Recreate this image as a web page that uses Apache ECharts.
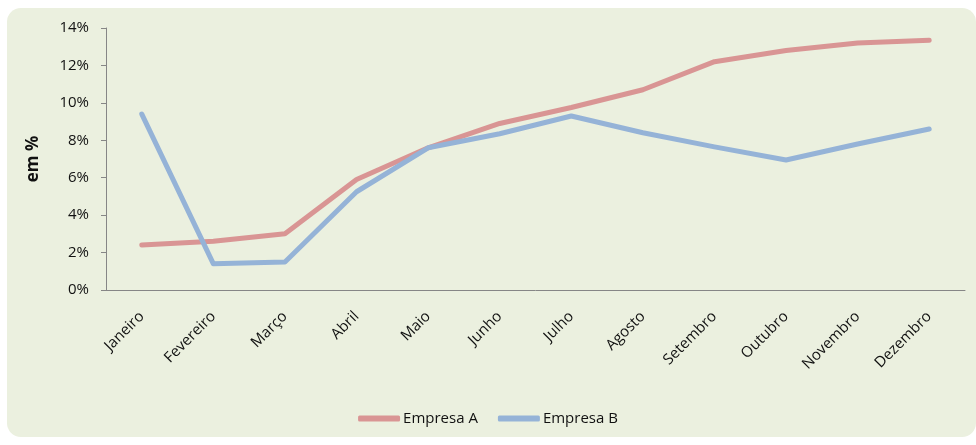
<!DOCTYPE html>
<html>
<head>
<meta charset="utf-8">
<script src="https://cdn.jsdelivr.net/npm/echarts@6/dist/echarts.min.js"></script>
<style>
    html, body { margin: 0; padding: 0; background: #fff; }
    .wrap { position: relative; width: 976px; height: 445px; }
    .box {
        position: absolute; left: 7px; top: 8px; right: 0; bottom: 8px;
        background: #ebf0df; border-radius: 14px;
    }
    #chart { position: absolute; left: 0; top: 0; width: 976px; height: 445px; }
</style>
</head>
<body>
<div class="wrap">
    <div class="box"></div>
    <div id="chart"></div>
</div>
<script>
var meses = ['Janeiro', 'Fevereiro', 'Março', 'Abril', 'Maio', 'Junho', 'Julho', 'Agosto', 'Setembro', 'Outubro', 'Novembro', 'Dezembro'];
var empresaA = [2.4, 2.6, 3.0, 5.9, 7.6, 8.9, 9.75, 10.7, 12.2, 12.8, 13.2, 13.35];
var empresaB = [9.4, 1.4, 1.5, 5.25, 7.6, 8.35, 9.3, 8.4, 7.65, 6.95, 7.8, 8.6];

var chart = echarts.init(document.getElementById('chart'));
var fonte = '"Open Sans", "Noto Sans", sans-serif';
chart.setOption({
    animation: false,
    color: ['#d99594', '#95b3d7'],
    textStyle: { fontFamily: fonte },
    grid: { // área do gráfico
        left: 106,
        right: 11,
        top: 28,
        bottom: 155
    },
    legend: {
        bottom: 14,
        left: 'center',
        itemWidth: 42,
        itemHeight: 6,
        itemGap: 20,
        icon: 'roundRect',
        textStyle: { fontSize: 15, color: '#111', fontFamily: fonte, padding: [0, 0, 0, -2] },
        data: ['Empresa A', 'Empresa B']
    },
    xAxis: {
        type: 'category',
        data: meses,
        axisLine: { lineStyle: { color: '#868686' } },
        axisTick: { length: 5, lineStyle: { color: '#868686' } },
        axisLabel: {
            interval: 0,
            rotate: 45,
            fontSize: 15,
            color: '#111',
            margin: 24
        }
    },
    yAxis: {
        type: 'value',
        min: 0,
        max: 14,
        interval: 2,
        name: 'em %',
        nameLocation: 'middle',
        nameGap: 64,
        nameTextStyle: { fontSize: 17, fontWeight: 'bold', color: '#111' },
        axisLine: { show: true, lineStyle: { color: '#868686' } },
        axisTick: { show: true, length: 5, lineStyle: { color: '#868686' } },
        splitLine: { show: false },
        axisLabel: {
            fontSize: 15,
            color: '#111',
            margin: 17,
            formatter: '{value}%'
        }
    },
    series: [
        {
            name: 'Empresa A',
            type: 'line',
            data: empresaA,
            symbol: 'none',
            lineStyle: { width: 5, cap: 'round', join: 'round' }
        },
        {
            name: 'Empresa B',
            type: 'line',
            data: empresaB,
            symbol: 'none',
            lineStyle: { width: 5, cap: 'round', join: 'round' }
        }
    ]
});
</script>
</body>
</html>
